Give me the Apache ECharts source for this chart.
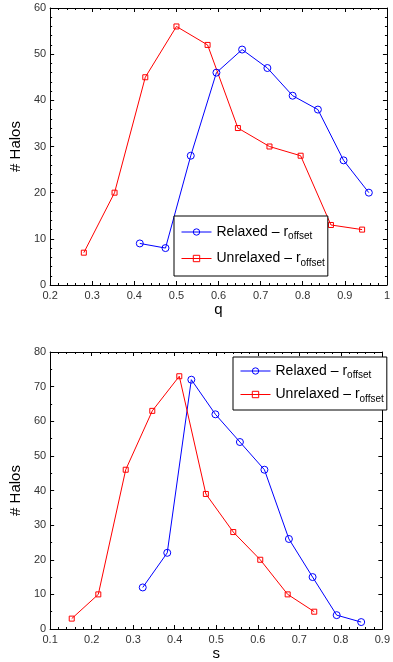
<!DOCTYPE html>
<html>
<head>
<meta charset="utf-8">
<script src="https://cdn.jsdelivr.net/npm/echarts@6/dist/echarts.min.js"></script>
<style>
html, body { margin: 0; padding: 0; background: #fff; }
#chart { width: 393px; height: 662px; }
</style>
</head>
<body>
<div id="chart"></div>
<script>
// q panel
var qRelaxedX = [0.413, 0.474, 0.534, 0.595, 0.656, 0.716, 0.776, 0.836, 0.897, 0.957];
var qRelaxedY = [9, 8, 28, 46, 51, 47, 41, 38, 27, 20];
var qUnrelaxedX = [0.280, 0.353, 0.426, 0.500, 0.574, 0.646, 0.721, 0.795, 0.867, 0.941];
var qUnrelaxedY = [7, 20, 45, 56, 52, 34, 30, 28, 13, 12];

// s panel
var sRelaxedX = [0.323, 0.382, 0.440, 0.498, 0.557, 0.616, 0.675, 0.732, 0.790, 0.849];
var sRelaxedY = [12, 22, 72, 62, 54, 46, 26, 15, 4, 2];
var sUnrelaxedX = [0.152, 0.216, 0.282, 0.346, 0.411, 0.475, 0.541, 0.606, 0.672, 0.736];
var sUnrelaxedY = [3, 10, 46, 63, 73, 39, 28, 20, 10, 5];

var seriesNames = ['Relaxed – r_offset', 'Unrelaxed – r_offset'];
var axisNames = ['q', 's'];
var xRanges = [[0.2, 1.0], [0.1, 0.9]];
var yRanges = [[0, 60], [0, 80]];
var yMinorSplits = [5, 2];

var FONT = 'Liberation Sans';

function pairs(xs, ys) {
    var out = [];
    xs.forEach(function (x, i) { out.push([x, ys[i]]); });
    return out;
}

function xAxisFor(i, pos) {
    var main = pos === 'bottom';
    return {
        type: 'value',
        gridIndex: i,
        position: pos,
        min: xRanges[i][0],
        max: xRanges[i][1],
        interval: 0.1,
        name: main ? axisNames[i] : '',
        nameLocation: 'middle',
        nameGap: 17,
        nameTextStyle: { fontFamily: FONT, fontSize: 15, color: '#000' },
        axisLine: { show: true, onZero: false, lineStyle: { color: '#000', width: 1 } },
        axisTick: { show: true, inside: true, length: 4, lineStyle: { color: '#000' } },
        minorTick: { show: true, splitNumber: 5, length: 2, lineStyle: { color: '#000' } },
        splitLine: { show: false },
        axisLabel: {
            show: main,
            margin: 5,
            fontFamily: FONT,
            fontSize: 11,
            color: '#333',
            formatter: function (v) { return String(+v.toFixed(1)); }
        }
    };
}

function yAxisFor(i, pos) {
    var main = pos === 'left';
    return {
        type: 'value',
        gridIndex: i,
        position: pos,
        min: yRanges[i][0],
        max: yRanges[i][1],
        interval: 10,
        name: main ? '# Halos' : '',
        nameLocation: 'middle',
        nameGap: 27,
        nameTextStyle: { fontFamily: FONT, fontSize: 15, color: '#000' },
        axisLine: { show: true, onZero: false, lineStyle: { color: '#000', width: 1 } },
        axisTick: { show: true, inside: true, length: 4, lineStyle: { color: '#000' } },
        minorTick: { show: true, splitNumber: yMinorSplits[i], length: 2, lineStyle: { color: '#000' } },
        splitLine: { show: false },
        axisLabel: {
            show: main,
            margin: 4,
            fontFamily: FONT,
            fontSize: 11,
            color: '#333'
        }
    };
}

function lineSeries(name, data, i, color, symbol, size) {
    return {
        name: name,
        type: 'line',
        xAxisIndex: i * 2,
        yAxisIndex: i * 2,
        data: data,
        symbol: symbol,
        symbolSize: size,
        showAllSymbol: true,
        lineStyle: { color: color, width: 1 },
        itemStyle: { color: 'transparent', borderColor: color, borderWidth: 1 },
        emphasis: { disabled: true },
        animation: false
    };
}

//legend box, subscript done with rich text
function legendFor(left, top, gap, pad) {
    return {
        orient: 'vertical',
        left: left,
        top: top,
        data: seriesNames,
        itemWidth: 30,
        itemHeight: 8,
        itemGap: gap,
        padding: pad,
        backgroundColor: '#fff',
        borderColor: '#000',
        borderWidth: 1,
        borderRadius: 0,
        selectedMode: false,
        lineStyle: { width: 1 },
        itemStyle: { borderWidth: 1 },
        formatter: function (name) {
            return '{m|' + name.replace('_offset', '') + '}{s|offset}';
        },
        textStyle: {
            fontFamily: FONT,
            color: '#000',
            rich: {
                m: { fontFamily: FONT, fontSize: 14, color: '#000' },
                s: { fontFamily: FONT, fontSize: 10, color: '#000', padding: [9, 0, 0, 0] }
            }
        }
    };
}

var option = {
    backgroundColor: '#fff',
    animation: false,
    grid: [
        { left: 41, top: 8, width: 351, height: 277 },
        { left: 41, top: 352, width: 351, height: 277 }
    ],
    xAxis: [xAxisFor(0, 'bottom'), xAxisFor(0, 'top'), xAxisFor(1, 'bottom'), xAxisFor(1, 'top')],
    yAxis: [yAxisFor(0, 'left'), yAxisFor(0, 'right'), yAxisFor(1, 'left'), yAxisFor(1, 'right')],
    legend: [
        legendFor(174, 216, 10, [9, 3, 8, 7]),
        legendFor(233, 357, 7, [7, 3, 6, 7])
    ],
    series: [
        lineSeries(seriesNames[0], pairs(qRelaxedX, qRelaxedY), 0, '#0000ff', 'circle', 7),
        lineSeries(seriesNames[1], pairs(qUnrelaxedX, qUnrelaxedY), 0, '#ff0000', 'rect', 5),
        lineSeries(seriesNames[0], pairs(sRelaxedX, sRelaxedY), 1, '#0000ff', 'circle', 7),
        lineSeries(seriesNames[1], pairs(sUnrelaxedX, sUnrelaxedY), 1, '#ff0000', 'rect', 5)
    ]
};

var chart = echarts.init(document.getElementById('chart'));
chart.setOption(option);
</script>
</body>
</html>
